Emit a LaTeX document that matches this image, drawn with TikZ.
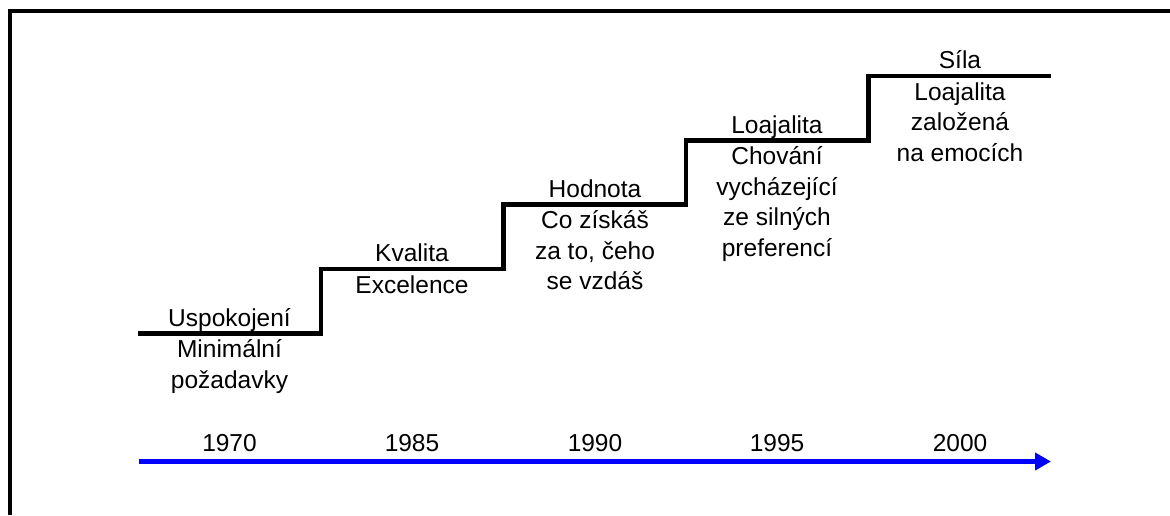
\documentclass[tikz,border=0pt]{standalone}
\usepackage{fontspec}
\setmainfont{Liberation Sans}
\usetikzlibrary{arrows.meta}
\definecolor{axisblue}{RGB}{0,0,255}
\begin{document}
\begin{tikzpicture}[x=1pt,y=-1pt,
  stair/.style={line width=4.5pt, line join=miter, line cap=butt},
  frameline/.style={line width=4pt},
  lbl/.style={font=\fontsize{24.5}{30.5}\selectfont, inner sep=0pt, anchor=base},
  desc/.style={lbl, align=center},
  axisline/.style={line width=4.3pt, draw=axisblue, -{Triangle[length=16pt,width=17pt]}},
]
\useasboundingbox (0,0) rectangle (1170,515);
\fill[white] (0,0) rectangle (1170,515);

% outer frame (left and top edges)
\coordinate (fb) at (10,515);
\coordinate (fr) at (1170,11);
\draw[frameline] (fb) |- (fr);

% staircase corners
\coordinate (p0) at (138,333.5);
\coordinate (p1) at (321,333.5);
\coordinate (p2) at (321,269);
\coordinate (p3) at (503.5,269);
\coordinate (p4) at (503.5,204.5);
\coordinate (p5) at (686,204.5);
\coordinate (p6) at (686,140.5);
\coordinate (p7) at (868.5,140.5);
\coordinate (p8) at (868.5,76);
\coordinate (p9) at (1051,76);
\draw[stair] (p0) -- (p1) -- (p2) -- (p3) -- (p4) -- (p5) -- (p6) -- (p7) -- (p8) -- (p9);

% step titles (above each tread)
\node[lbl] (t1) at (229.5,326) {Uspokojení};
\node[lbl] (t2) at (412,261.5) {Kvalita};
\node[lbl] (t3) at (595,197) {Hodnota};
\node[lbl] (t4) at (777,133) {Loajalita};
\node[lbl] (t5) at (960,68.5) {Síla};

% step descriptions (below each tread); base anchor sits on the last line
\node[desc] (d1) at (229.5,388) {Minimální\\požadavky};
\node[desc] (d2) at (412,293) {Excelence};
\node[desc] (d3) at (595,289.5) {Co získáš\\za to, čeho\\se vzdáš};
\node[desc] (d4) at (777,256) {Chování\\vycházející\\ze silných\\preferencí};
\node[desc] (d5) at (960,161) {Loajalita\\založená\\na emocích};

% time axis
\node[lbl] (y1) at (229.5,451.5) {1970};
\node[lbl] (y2) at (412,451.5) {1985};
\node[lbl] (y3) at (595,451.5) {1990};
\node[lbl] (y4) at (777,451.5) {1995};
\node[lbl] (y5) at (960,451.5) {2000};
\coordinate (a0) at (139,461.5);
\coordinate (a1) at (1051,461.5);
\draw[axisline] (a0) -- (a1);
\end{tikzpicture}
\end{document}
